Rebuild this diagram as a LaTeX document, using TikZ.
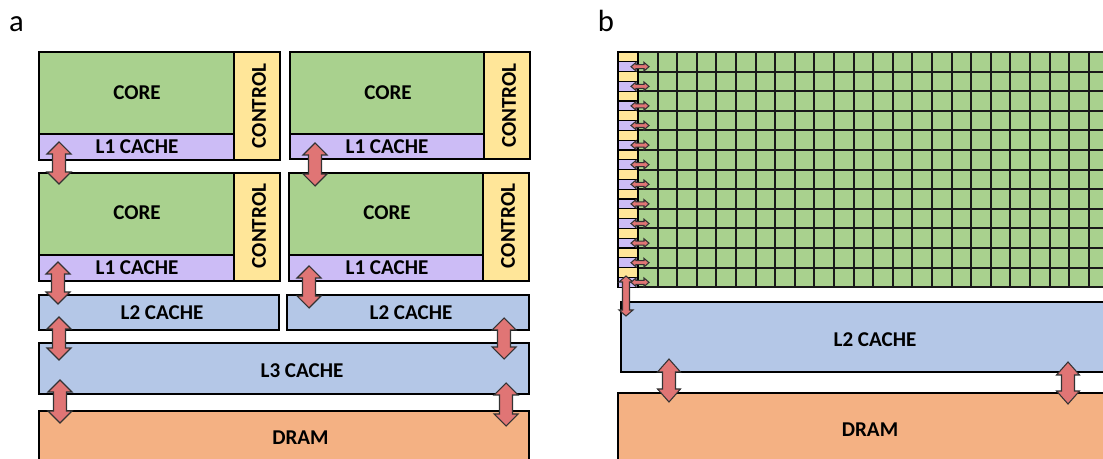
\documentclass[tikz,border=0pt]{standalone}
\usepackage{fontspec}
\setmainfont{Carlito}
\definecolor{coreg}{HTML}{A9D18E}
\definecolor{ctrly}{HTML}{FFE699}
\definecolor{l1p}{HTML}{CCBCF6}
\definecolor{cacheb}{HTML}{B4C7E7}
\definecolor{dramo}{HTML}{F4B183}
\definecolor{arrr}{HTML}{E07575}
\newcommand\vdarr[6]{% x, ytop, ybot, half head, half shaft, head length
  \draw[barrow] (#1,#2) -- (#1+#4,#2+#6) -- (#1+#5,#2+#6) -- (#1+#5,#3-#6) -- (#1+#4,#3-#6) -- (#1,#3)
    -- (#1-#4,#3-#6) -- (#1-#5,#3-#6) -- (#1-#5,#2+#6) -- (#1-#4,#2+#6) -- cycle;}
\newcommand\hdarr[6]{% y, xleft, xright, half head, half shaft, head length
  \draw[barrow] (#2,#1) -- (#2+#6,#1-#4) -- (#2+#6,#1-#5) -- (#3-#6,#1-#5) -- (#3-#6,#1-#4) -- (#3,#1)
    -- (#3-#6,#1+#4) -- (#3-#6,#1+#5) -- (#2+#6,#1+#5) -- (#2+#6,#1+#4) -- cycle;}
\begin{document}
\begin{tikzpicture}[x=0.75pt,y=-0.75pt,
  box/.style={draw=black,line width=1.5pt},
  lbl/.style={font=\fontsize{15.8}{18}\bfseries\selectfont,inner sep=0pt},
  plbl/.style={font=\fontsize{23}{26}\selectfont,inner sep=0pt},
  barrow/.style={fill=arrr,draw=black!80,line width=0.8pt,line join=miter},
  gridline/.style={draw=black!90,line width=1.6pt},
  cell/.style={draw=black,line width=1pt}]
\useasboundingbox (0,0) rectangle (1103,459);
\clip (0,0) rectangle (1103,459);

% ---------------- panel a ----------------
\node[plbl] (la) at (16.5,24.5) {a};

% row 1 left
\draw[box,fill=coreg] (39,52) rectangle (234,134);
\draw[box,fill=l1p] (39,134) rectangle (234,160);
\draw[box,fill=ctrly] (234,52) rectangle (280,160);
\node[lbl] (core1) at (137,92.5) {CORE};
\node[lbl] (l1a) at (137,147) {L1 CACHE};
\node[lbl,rotate=90] (ctl1) at (259,106) {CONTROL};
% row 1 right
\draw[box,fill=coreg] (290,52) rectangle (484,134);
\draw[box,fill=l1p] (290,134) rectangle (484,159);
\draw[box,fill=ctrly] (484,52) rectangle (530,159);
\node[lbl] (core2) at (388,92.5) {CORE};
\node[lbl] (l1b) at (387,146.5) {L1 CACHE};
\node[lbl,rotate=90] (ctl2) at (509,105.5) {CONTROL};
% row 2 left
\draw[box,fill=coreg] (39,173) rectangle (234,255);
\draw[box,fill=l1p] (39,255) rectangle (234,281);
\draw[box,fill=ctrly] (234,173) rectangle (280,281);
\node[lbl] (core3) at (137,213) {CORE};
\node[lbl] (l1c) at (137,268) {L1 CACHE};
\node[lbl,rotate=90] (ctl3) at (259,226) {CONTROL};
% row 2 right
\draw[box,fill=coreg] (289,173) rectangle (483,255);
\draw[box,fill=l1p] (289,255) rectangle (483,281);
\draw[box,fill=ctrly] (483,173) rectangle (529,281);
\node[lbl] (core4) at (387,213) {CORE};
\node[lbl] (l1d) at (387,268) {L1 CACHE};
\node[lbl,rotate=90] (ctl4) at (508,226) {CONTROL};
% L2
\draw[box,fill=cacheb] (39,295) rectangle (279,330);
\node[lbl] (l2a) at (162,312.5) {L2 CACHE};
\draw[box,fill=cacheb] (287,295) rectangle (529,330);
\node[lbl] (l2b) at (411,312.5) {L2 CACHE};
% L3
\draw[box,fill=cacheb] (39,343) rectangle (529,394);
\node[lbl] (l3) at (302,370.5) {L3 CACHE};
% DRAM
\draw[box,fill=dramo] (39,411) rectangle (529,475);
\node[lbl] (dram1) at (300.5,438) {DRAM};

% arrows panel a
\vdarr{59}{142}{184}{12}{6.5}{12}
\vdarr{315}{143}{186}{12}{6.5}{12}
\vdarr{58}{262}{304}{12}{6.5}{12}
\vdarr{309}{266}{308}{12}{6.5}{12}
\vdarr{59}{317}{360}{12}{6.5}{12}
\vdarr{504}{318}{359}{12}{6.5}{12}
\vdarr{60}{380}{423}{12}{6.5}{12}
\vdarr{506}{383}{426}{12}{6.5}{12}

% ---------------- panel b ----------------
\node[plbl] (lb) at (606,21) {b};

% L2 and DRAM
\draw[box,fill=cacheb] (621,302) rectangle (1120,372);
\node[lbl] (l2c) at (875,339.5) {L2 CACHE};
\draw[box,fill=dramo] (618,393) rectangle (1120,475);
\node[lbl] (dram2) at (870,430) {DRAM};

% grid of cores
\fill[coreg] (638,52) rectangle (1120,287.2);
\foreach \i in {0,...,24} {
  \draw[gridline] (638+19.6*\i,52) -- (638+19.6*\i,287.2);
}
\foreach \j in {0,...,12} {
  \draw[gridline] (638,52+19.6*\j) -- (1120,52+19.6*\j);
}
% control / L1 column
\foreach \j in {0,...,11} {
  \pgfmathsetmacro\t{52+19.6*\j}
  \draw[cell,fill=ctrly] (618,\t) rectangle (638,\t+9.8);
  \draw[cell,fill=l1p] (618,\t+9.8) rectangle (638,\t+19.6);
}
% vertical arrow from last L1 to L2
\vdarr{626}{276}{316}{7}{3.5}{6}
% small horizontal arrows
\foreach \j in {0,...,11} {
  \pgfmathsetmacro\yy{52+19.6*\j+14.7}
  \hdarr{\yy}{631}{649}{4.3}{2}{5}
}
% arrows L2 -> DRAM
\vdarr{669}{359}{402}{11.5}{6.5}{13}
\vdarr{1068}{362}{404}{11.5}{6.5}{13}
\end{tikzpicture}
\end{document}
